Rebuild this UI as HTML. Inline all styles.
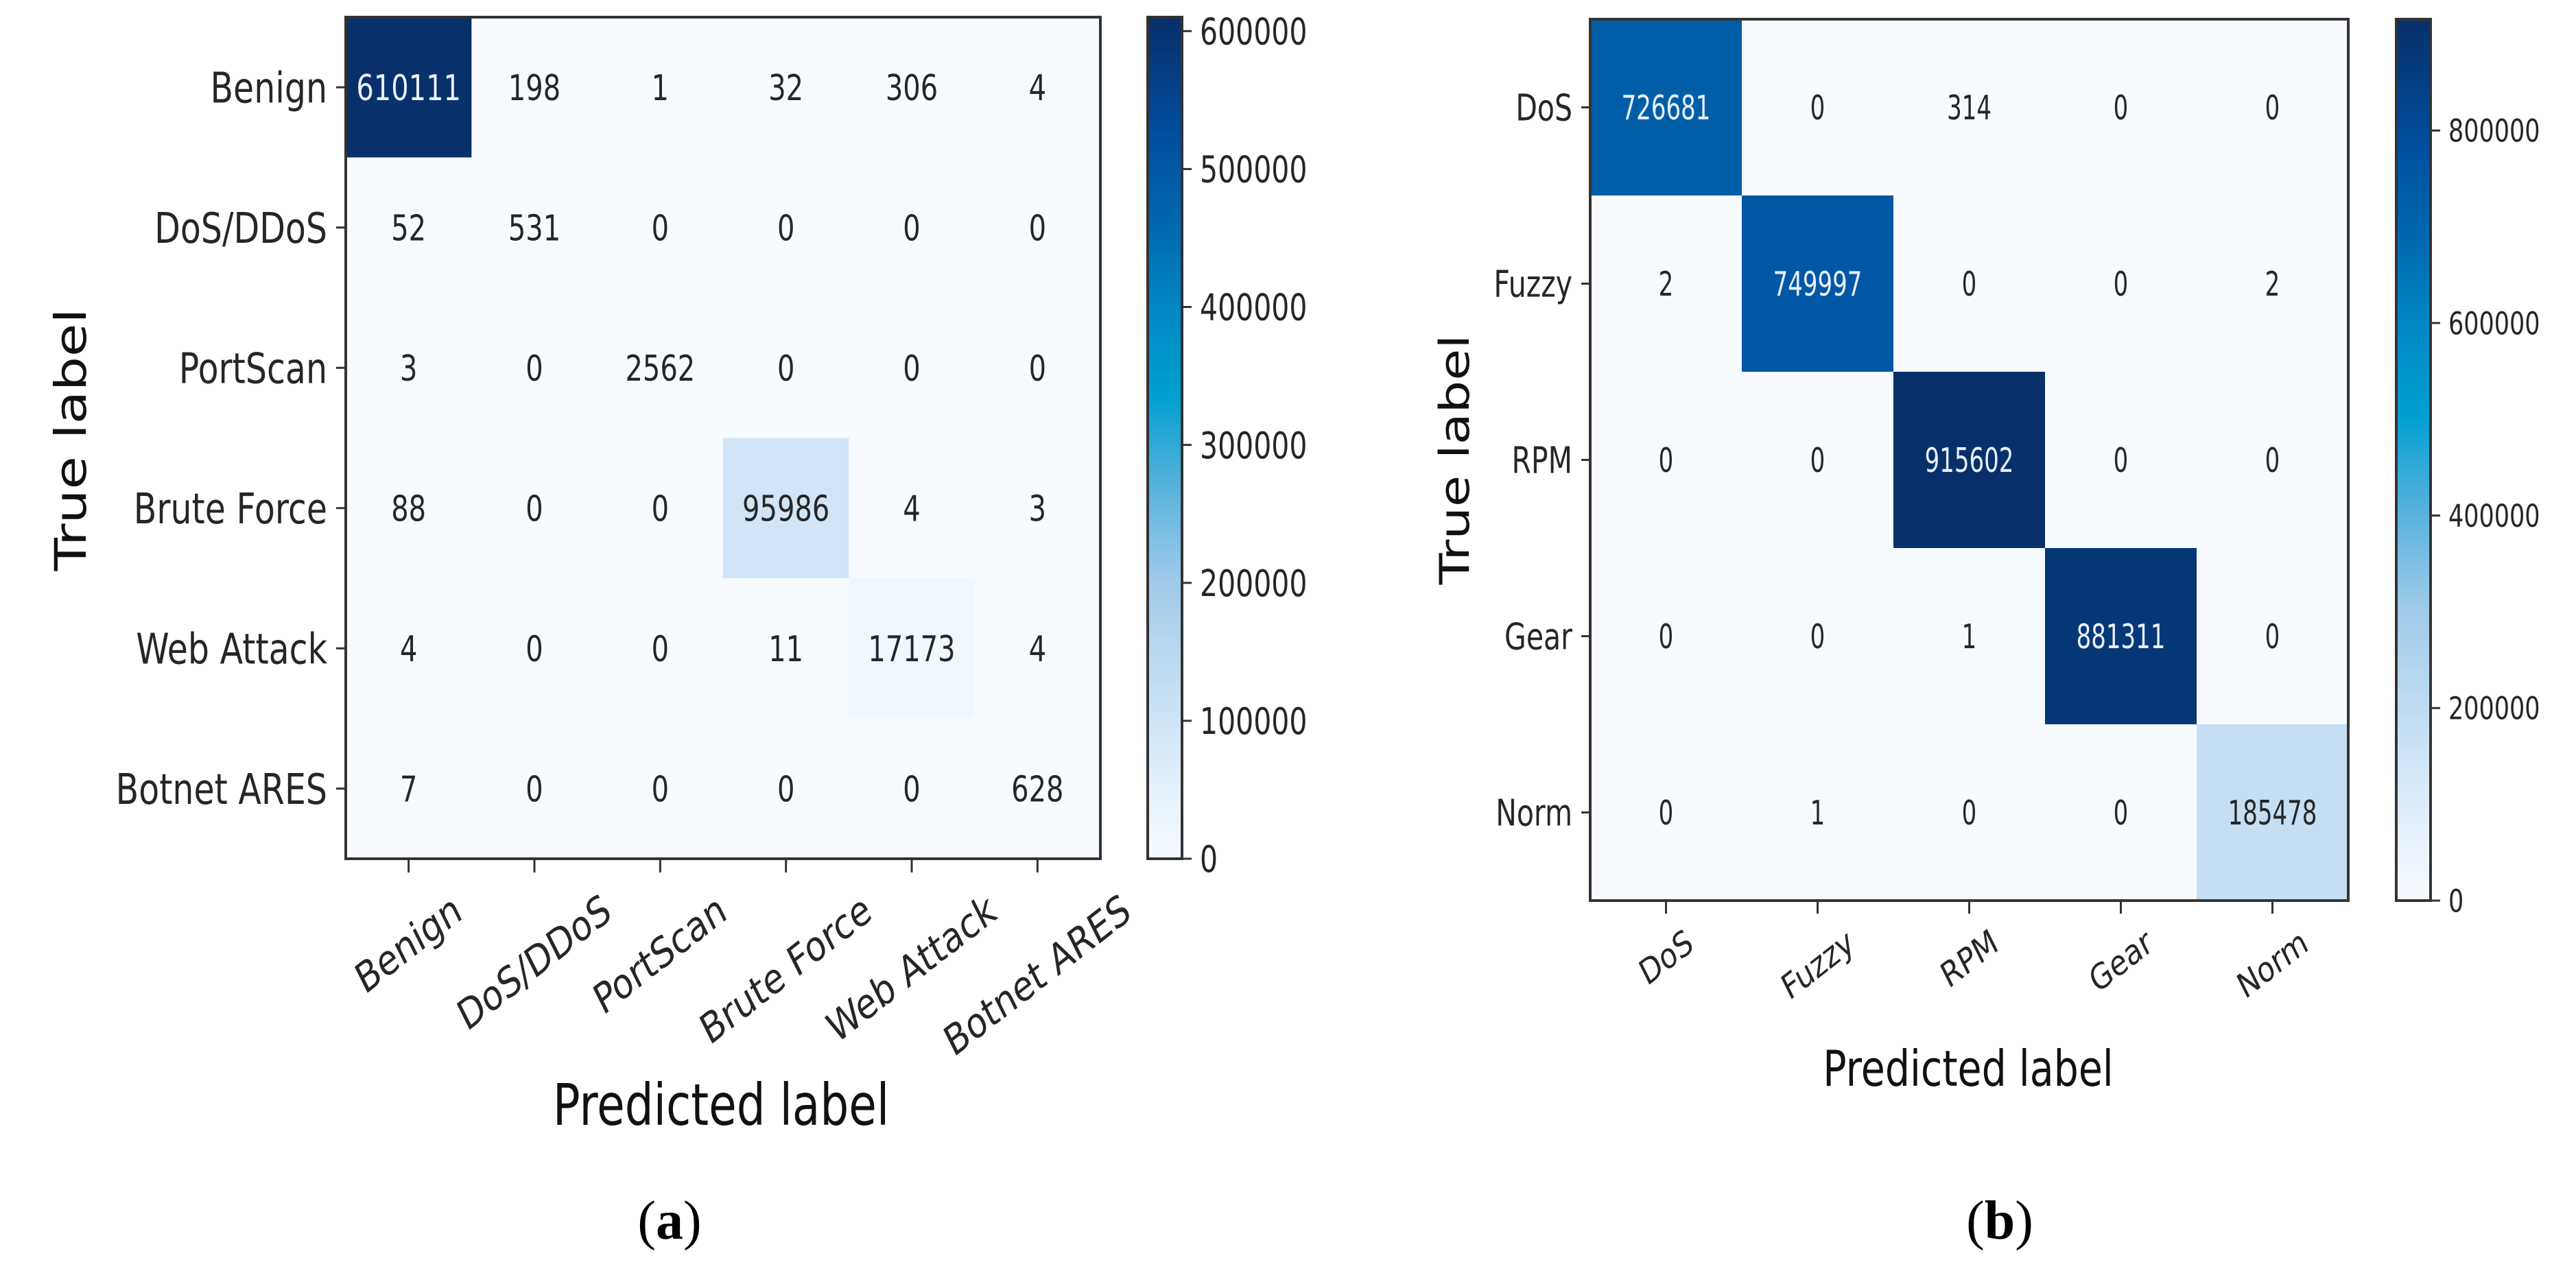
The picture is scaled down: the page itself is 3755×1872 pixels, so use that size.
<!DOCTYPE html>
<html><head><meta charset="utf-8">
<style>
html,body{margin:0;padding:0;background:#fff;}
svg{display:block;}
text{font-family:"DejaVu Sans","Liberation Sans",sans-serif;}
</style></head>
<body>
<svg id="fig" width="3755" height="1872" viewBox="0 0 3755 1872" xmlns="http://www.w3.org/2000/svg">
<defs>
<linearGradient id="cbgrad" x1="0" y1="1" x2="0" y2="0">
<stop offset="0" stop-color="#f7fbff"/><stop offset="0.15" stop-color="#d4e6f6"/><stop offset="0.33" stop-color="#9fcbea"/><stop offset="0.45" stop-color="#52b0dc"/><stop offset="0.55" stop-color="#00a0d0"/><stop offset="0.65" stop-color="#0088c4"/><stop offset="0.75" stop-color="#0068b0"/><stop offset="0.85" stop-color="#0050a0"/><stop offset="1" stop-color="#08306b"/>
</linearGradient>
</defs>
<g id="chartA"></g>
<g id="chartB"></g>
<text x="976" y="1806" text-anchor="middle" font-size="80" style="font-family:'Liberation Serif',serif">(<tspan font-weight="bold">a</tspan>)</text>
<text x="2915" y="1806" text-anchor="middle" font-size="80" style="font-family:'Liberation Serif',serif">(<tspan font-weight="bold">b</tspan>)</text>
</svg>
<script>
const labelsA = ["Benign","DoS/DDoS","PortScan","Brute Force","Web Attack","Botnet ARES"];
const valuesA = [
 [610111,198,1,32,306,4],
 [52,531,0,0,0,0],
 [3,0,2562,0,0,0],
 [88,0,0,95986,4,3],
 [4,0,0,11,17173,4],
 [7,0,0,0,0,628]
];
const cbTicksA = [0,100000,200000,300000,400000,500000,600000];
const labelsB = ["DoS","Fuzzy","RPM","Gear","Norm"];
const valuesB = [
 [726681,0,314,0,0],
 [2,749997,0,0,2],
 [0,0,915602,0,0],
 [0,0,1,881311,0],
 [0,1,0,0,185478]
];
const cbTicksB = [0,200000,400000,600000,800000];

const NS="http://www.w3.org/2000/svg";
const stops=[[0,[247,251,255]],[0.15,[212,230,246]],[0.33,[159,203,234]],[0.45,[82,176,220]],[0.55,[0,160,208]],[0.65,[0,136,196]],[0.75,[0,104,176]],[0.85,[0,80,160]],[1,[8,48,107]]];
function cmap(t){t=Math.max(0,Math.min(1,t));for(let i=1;i<stops.length;i++){if(t<=stops[i][0]){const a=stops[i-1],b=stops[i];const f=(t-a[0])/(b[0]-a[0]);const c=a[1].map((v,k)=>Math.round(v+(b[1][k]-v)*f));return `rgb(${c[0]},${c[1]},${c[2]})`;}}return "rgb(8,48,107)";}
function mk(tag,attrs,parent){const e=document.createElementNS(NS,tag);for(const k in attrs)e.setAttribute(k,attrs[k]);parent.appendChild(e);return e;}

function draw(g,cfg){
 const {labels,values,ticks,L,T,R,B,cbL,cbR,fs}=cfg;
 const n=labels.length;
 const vmax=Math.max(...values.flat());
 const cw=(R-L)/n, ch=(B-T)/n;
 const xs=i=>L+cw*(i+0.5), ys=i=>T+ch*(i+0.5);
 const cy=v=>B-(v/vmax)*(B-T);
 for(let r=0;r<n;r++)for(let c=0;c<n;c++){
  const v=values[r][c];
  const rect=mk('rect',{x:L+cw*c,y:T+ch*r,width:cw+0.6,height:ch+0.6,fill:cmap(v/vmax)},g);
  
  
 }
 for(let r=0;r<n;r++)for(let c=0;c<n;c++){
  const v=values[r][c];
  const t=mk('text',{transform:`translate(${xs(c)},${ys(r)+0.36*fs.cell*fs.cellSy}) scale(1,${fs.cellSy})`,'text-anchor':'middle','font-size':fs.cell,fill:v>vmax/2?'#e8f0fa':'#262626'},g);
  t.textContent=String(v);
  
  
 }
 const frame=mk('rect',{x:L,y:T,width:R-L,height:B-T,fill:'none',stroke:'#333',"stroke-width":4},g);
 
 
 for(let i=0;i<n;i++){
  mk('line',{x1:L-fs.tick,y1:ys(i),x2:L,y2:ys(i),stroke:'#333','stroke-width':3},g);
  const yl=mk('text',{transform:`translate(${L-fs.tick-13},${ys(i)+0.36*fs.tl*fs.tlSy}) scale(1,${fs.tlSy})`,'text-anchor':'end','font-size':fs.tl,fill:'#262626'},g);
  yl.textContent=labels[i];
  
  
  mk('line',{x1:xs(i),y1:B,x2:xs(i),y2:B+fs.tick+6,stroke:'#333','stroke-width':3},g);
  const xl=mk('text',{'text-anchor':'middle','font-size':fs.tl,fill:'#262626','dominant-baseline':'central'},g);
  xl.textContent=labels[i];
  
  
  const len=xl.getComputedTextLength();
  const ang=32*Math.PI/180;
  const hh=fs.xsy*(len*Math.sin(ang)+0.8*fs.tl*Math.cos(ang));
  xl.setAttribute('transform',`translate(${xs(i)},${B+fs.xoff+hh/2}) scale(1,${fs.xsy}) rotate(-32)`);
 }
 const yt=mk('text',{transform:`translate(${fs.ytX},${fs.ytY}) scale(1,1.25) rotate(-90)`,'text-anchor':'middle','font-size':fs.yt,fill:'#111'},g);
 yt.textContent='True label';
 
 
 const xt=mk('text',{transform:`translate(${fs.xtX},${fs.xtY}) scale(1,1.27)`,'text-anchor':'middle','font-size':fs.xt,fill:'#111'},g);
 xt.textContent='Predicted label';
 
 
 const cb=mk('rect',{x:cbL,y:T,width:cbR-cbL,height:B-T,fill:'url(#cbgrad)',stroke:'#333','stroke-width':4},g);
 
 
 ticks.forEach(v=>{
  mk('line',{x1:cbR,y1:cy(v),x2:cbR+14,y2:cy(v),stroke:'#333','stroke-width':3},g);
  const tl=mk('text',{transform:`translate(${cbR+26},${cy(v)+0.36*fs.cb*1.3}) scale(1,1.3)`,'font-size':fs.cb,fill:'#262626'},g);
  tl.textContent=String(v);
  
  
 });
}
draw(document.getElementById('chartA'),{labels:labelsA,values:valuesA,ticks:cbTicksA,L:504,T:25,R:1604,B:1252,cbL:1673,cbR:1723,
 fs:{cell:40,cellSy:1.3,tl:49,tlSy:1.25,tick:14,xoff:48,xsy:1.25,yt:63,ytX:125,ytY:641,xt:66,xtX:1051,xtY:1640,cb:41}});
draw(document.getElementById('chartB'),{labels:labelsB,values:valuesB,ticks:cbTicksB,L:2318,T:28,R:3423,B:1313,cbL:3493,cbR:3543,
 fs:{cell:34,cellSy:1.45,tl:41,tlSy:1.3,tick:13,xoff:38,xsy:1.25,yt:60,ytX:2141,ytY:670,xt:57,xtX:2869,xtY:1583,cb:35}});
</script>
</body></html>
